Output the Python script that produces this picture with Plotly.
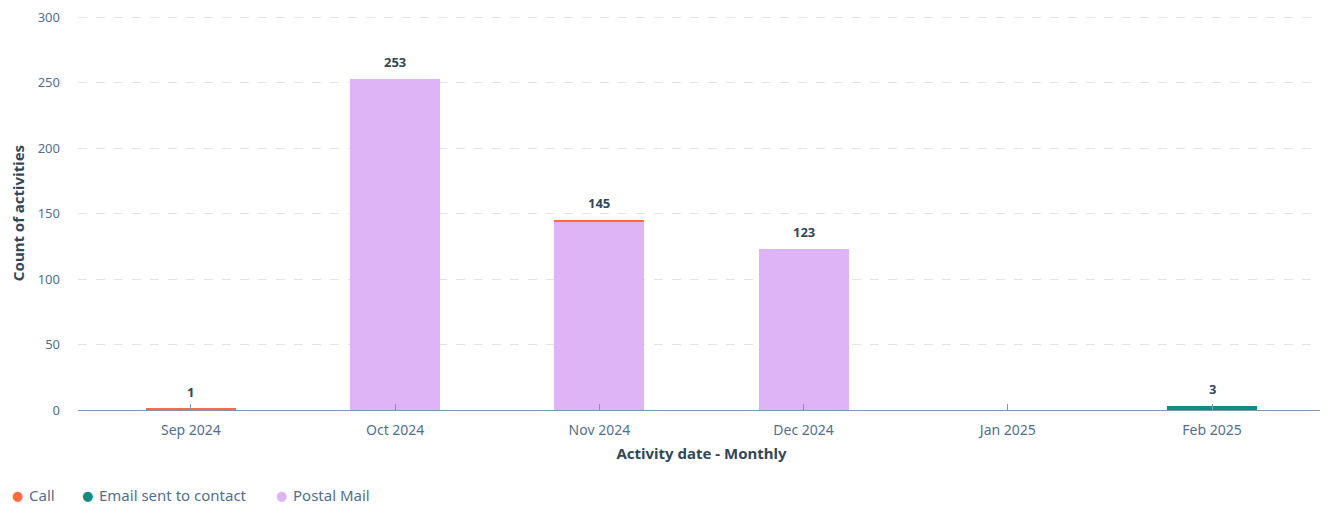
import plotly.graph_objects as go

months = ["Sep 2024", "Oct 2024", "Nov 2024", "Dec 2024", "Jan 2025", "Feb 2025"]
postal_mail = [0, 253, 144, 123, 0, 0]
call = [1, 0, 1, 0, 0, 0]
email_sent = [0, 0, 0, 0, 0, 3]

series_names = ["Call", "Email sent to contact", "Postal Mail"]
colors = {"Call": "#ff6b3d", "Email sent to contact": "#138b82", "Postal Mail": "#dfb4f7"}
totals = [p + c + e for p, c, e in zip(postal_mail, call, email_sent)]

FONT = "Noto Sans"
W, H = 1328, 508
ML, MR, MT, MB = 70, 11, 8, 106
PAGE_OFFSET = 8  # default body margin of the html page

fig = go.Figure()
fig.add_bar(x=months, y=postal_mail, name="Postal Mail", marker_color=colors["Postal Mail"],
            marker_line_width=0)
fig.add_bar(x=months, y=email_sent, name="Email sent to contact", marker_color=colors["Email sent to contact"],
            marker_line_width=0)
fig.add_bar(x=months, y=call, name="Call", marker_color=colors["Call"],
            marker_line_width=0)

for m, t in zip(months, totals):
    if t > 0:
        fig.add_annotation(x=m, y=t, text=f"<b>{t}</b>", showarrow=False, yshift=17,
                           font=dict(family=FONT, size=13, color="#33475b"))

# custom legend (circle markers) below the chart
plot_w = W - ML - MR
plot_h = H - MT - MB
legend_px = [10, 80, 274]
legend_y_px = 495 - PAGE_OFFSET
yy = (H - MB - legend_y_px) / plot_h
for name, px in zip(series_names, legend_px):
    fx = px - PAGE_OFFSET
    fig.add_annotation(xref="paper", yref="paper", x=(fx - ML) / plot_w, y=yy,
                       xanchor="left", yanchor="middle", showarrow=False,
                       text="●", font=dict(family="DejaVu Sans", size=13, color=colors[name]))
    fig.add_annotation(xref="paper", yref="paper", x=(fx + 17 - ML) / plot_w, y=yy,
                       xanchor="left", yanchor="middle", showarrow=False,
                       text=name, font=dict(family=FONT, size=15, color="#516f90"))

fig.update_layout(
    barmode="stack",
    bargap=0.56,
    width=W, height=H,
    margin=dict(l=ML, r=MR, t=MT, b=MB),
    plot_bgcolor="white", paper_bgcolor="white",
    font=dict(family=FONT, size=13, color="#516f90"),
    showlegend=False,
    xaxis=dict(title=dict(text="<b>Activity date - Monthly</b>", font=dict(size=15, color="#33475b"), standoff=10),
               range=[-0.553, 5.553], automargin=False,
               showgrid=False, ticks="inside", ticklen=6, tickcolor="#7c98b6",
               ticklabelstandoff=10,
               showline=False, tickfont=dict(size=14, color="#516f90")),
    yaxis=dict(title=dict(text="<b>Count of activities</b>", font=dict(size=15, color="#33475b"), standoff=14),
               range=[0, 301], tickvals=[0, 50, 100, 150, 200, 250, 300],
               ticklabeloverflow="allow",
               showgrid=True, gridcolor="#dfe3eb", griddash="dash",
               automargin=False, ticklabelstandoff=17,
               zeroline=True, zerolinecolor="#7c98b6", zerolinewidth=1,
               tickfont=dict(size=13, color="#516f90")),
)

fig.write_html("out.html")
